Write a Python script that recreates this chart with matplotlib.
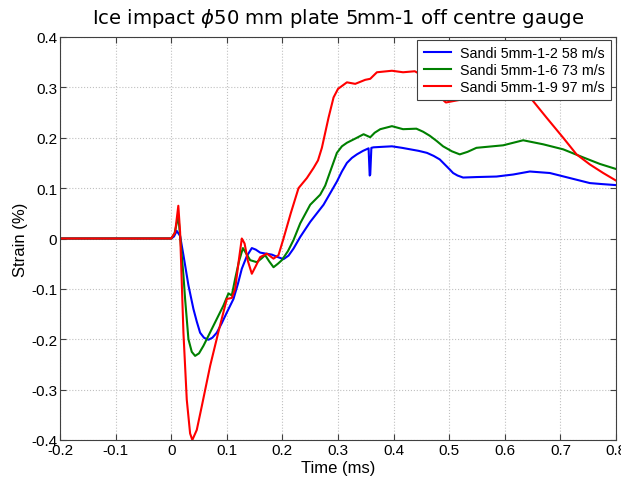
import matplotlib
matplotlib.use("Agg")
import matplotlib.pyplot as plt

plt.rcParams['font.family'] = ['Liberation Sans', 'DejaVu Sans']
plt.rcParams['mathtext.fontset'] = 'dejavusans'

title = r'Ice impact $\phi$50 mm plate 5mm-1 off centre gauge'
labels = ['Sandi 5mm-1-2 58 m/s', 'Sandi 5mm-1-6 73 m/s', 'Sandi 5mm-1-9 97 m/s']
colors = ['#0000ff', '#008000', '#ff0000']

t_blue = [-0.2, 0.0, 0.005, 0.01, 0.016, 0.022, 0.031, 0.04, 0.046, 0.052, 0.059, 0.067, 0.074, 0.082,
          0.091, 0.1, 0.112, 0.12, 0.127, 0.136, 0.145, 0.152, 0.16, 0.17, 0.181, 0.192, 0.202,
          0.211, 0.22, 0.232, 0.25, 0.262, 0.274, 0.286, 0.298, 0.307, 0.316, 0.325, 0.334, 0.345,
          0.355, 0.357, 0.358, 0.36, 0.364, 0.38, 0.397, 0.415, 0.43, 0.445, 0.46, 0.472, 0.483,
          0.492, 0.501, 0.507, 0.515, 0.525, 0.55, 0.585, 0.615, 0.645, 0.681, 0.717, 0.753,
          0.775, 0.8]
s_blue = [0.0, 0.0, 0.004, 0.015, 0.005, -0.033, -0.093, -0.14, -0.165, -0.187, -0.197, -0.201, -0.197,
          -0.187, -0.168, -0.147, -0.12, -0.09, -0.06, -0.035, -0.019, -0.022, -0.028, -0.03, -0.032,
          -0.037, -0.041, -0.034, -0.02, 0.003, 0.033, 0.05, 0.067, 0.09, 0.113, 0.133, 0.15, 0.16,
          0.167, 0.174, 0.179, 0.125, 0.127, 0.18, 0.181, 0.182, 0.183, 0.18, 0.177, 0.174, 0.17,
          0.164, 0.157, 0.147, 0.137, 0.13, 0.125, 0.121, 0.122, 0.123, 0.127, 0.133, 0.13, 0.12,
          0.11, 0.108, 0.106]

t_green = [-0.2, 0.0, 0.006, 0.0128, 0.016, 0.022, 0.025, 0.031, 0.037, 0.043, 0.05, 0.058, 0.067,
           0.076, 0.085, 0.094, 0.103, 0.109, 0.115, 0.122, 0.129, 0.135, 0.142, 0.154, 0.162, 0.169,
           0.176, 0.184, 0.192, 0.199, 0.21, 0.22, 0.232, 0.25, 0.268, 0.277, 0.286, 0.298,
           0.307, 0.316, 0.334, 0.346, 0.358, 0.366, 0.376, 0.397, 0.417, 0.441, 0.453, 0.465,
           0.477, 0.489, 0.505, 0.519, 0.533, 0.549, 0.597, 0.615, 0.633, 0.669, 0.705, 0.741,
           0.771, 0.8]
s_green = [0.0, 0.0, 0.01, 0.045, 0.005, -0.073, -0.12, -0.2, -0.225, -0.233, -0.228, -0.213, -0.193,
           -0.173, -0.153, -0.133, -0.109, -0.113, -0.08, -0.045, -0.019, -0.03, -0.043, -0.047,
           -0.04, -0.033, -0.045, -0.057, -0.05, -0.043, -0.025, -0.003, 0.03, 0.067, 0.087, 0.105,
           0.133, 0.17, 0.183, 0.19, 0.2, 0.207, 0.201, 0.21, 0.217, 0.223, 0.217, 0.218, 0.212,
           0.204, 0.194, 0.183, 0.173, 0.167, 0.172, 0.18, 0.185, 0.19, 0.195, 0.187, 0.177,
           0.161, 0.148, 0.138]

t_red = [-0.2, 0.0, 0.007, 0.0128, 0.016, 0.022, 0.028, 0.034, 0.038, 0.046, 0.055, 0.07, 0.085, 0.1,
         0.109, 0.115, 0.122, 0.127, 0.132, 0.138, 0.145, 0.152, 0.16, 0.172, 0.184, 0.193, 0.202,
         0.215, 0.229, 0.244, 0.256, 0.264, 0.271, 0.283, 0.292, 0.3, 0.316, 0.331, 0.349, 0.358,
         0.37, 0.397, 0.417, 0.438, 0.45, 0.465, 0.475, 0.494, 0.518, 0.536, 0.56, 0.6, 0.625,
         0.639, 0.675, 0.705, 0.729, 0.753, 0.777, 0.8]
s_red = [0.0, 0.0, 0.012, 0.065, 0.013, -0.187, -0.32, -0.387, -0.4, -0.38, -0.333, -0.253, -0.185,
         -0.12, -0.118, -0.1, -0.04, 0.0, -0.01, -0.045, -0.07, -0.055, -0.037, -0.03, -0.04,
         -0.033, 0.0, 0.05, 0.1, 0.12, 0.14, 0.155, 0.18, 0.24, 0.28, 0.297, 0.31, 0.307, 0.315,
         0.317, 0.33, 0.333, 0.33, 0.332, 0.325, 0.305, 0.289, 0.27, 0.275, 0.289, 0.3, 0.31,
         0.305, 0.289, 0.24, 0.2, 0.167, 0.147, 0.13, 0.115]

x_ticks = [-0.2, -0.1, 0, 0.1, 0.2, 0.3, 0.4, 0.5, 0.6, 0.7, 0.8]
x_ticklabels = ['-0.2', '-0.1', '0', '0.1', '0.2', '0.3', '0.4', '0.5', '0.6', '0.7', '0.8']
y_ticks = [-0.4, -0.3, -0.2, -0.1, 0, 0.1, 0.2, 0.3, 0.4]
y_ticklabels = ['-0.4', '-0.3', '-0.2', '-0.1', '0', '0.1', '0.2', '0.3', '0.4']

fig = plt.figure(figsize=(6.21, 4.81), dpi=100)
ax = fig.add_axes([60/621, 1-441/481, 556/621, 403/481])

for t, s, c, lab in zip([t_blue, t_green, t_red], [s_blue, s_green, s_red], colors, labels):
    ax.plot(t, s, color=c, lw=1.5, label=lab)

ax.set_xlim(-0.2, 0.8)
ax.set_ylim(-0.4, 0.4)
ax.set_xticks(x_ticks)
ax.set_xticklabels(x_ticklabels)
ax.set_yticks(y_ticks)
ax.set_yticklabels(y_ticklabels)
ax.grid(True, color='#c0c0c0', linestyle=':', linewidth=0.8)
ax.tick_params(direction='in', top=True, right=True, labelsize=11, pad=2, length=4, color='#404040')
for sp in ax.spines.values():
    sp.set_color('#404040')
    sp.set_linewidth(0.8)
ax.set_xlabel('Time (ms)', fontsize=12, labelpad=2)
ax.set_ylabel('Strain (%)', fontsize=12, labelpad=2)
ax.set_title(title, fontsize=14.1, pad=10, family='DejaVu Sans')
leg = ax.legend(loc='upper right', bbox_to_anchor=(0.991, 0.993), fontsize=10.3, fancybox=False,
                edgecolor='#404040', framealpha=1.0, borderaxespad=0.0, handlelength=1.9,
                handletextpad=0.6, labelspacing=0.2, borderpad=0.45)
leg.get_frame().set_linewidth(0.8)

fig.savefig('out.png', dpi=100)
